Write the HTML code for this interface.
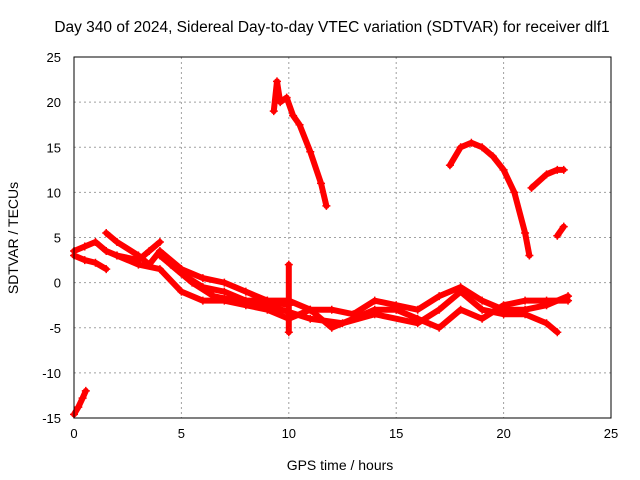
<!DOCTYPE html>
<html><head><meta charset="utf-8"><style>
body{margin:0;background:#fff}
svg{display:block;font-family:"Liberation Sans",sans-serif}
</style></head><body>
<svg id="c" width="640" height="480" viewBox="0 0 640 480"></svg>
<script>
const xTicks=[0,5,10,15,20,25];
const yTicks=[-15,-10,-5,0,5,10,15,20,25];
const trackStart=[[0,-14.6],[0.2,-13.8],[0.4,-12.8],[0.55,-12]];
const trackA=[[0,3.5],[0.5,4],[1,4.5],[1.5,3.5],[2,3],[3,2.5],[3.5,3.5],[4,4.5]];
const trackB=[[0,3],[0.5,2.5],[1,2.2],[1.5,1.5]];
const trackC=[[1.5,5.5],[2,4.5],[3,3],[3.5,2],[4,3.5],[5,1.5],[6,0.5],[7,0],[8,-1],[9,-2],[10,-2.5]];
const trackD=[[2,3],[3,2],[4,1.5],[5,-1],[6,-2],[7,-2],[8,-2.5],[9,-3],[10,-4],[11,-3],[12,-5],[13,-4],[14,-3],[15,-3],[16,-4],[17,-5],[18,-3],[19,-4],[20,-2.5],[21,-2],[22,-2],[23,-2]];
const trackE=[[4,3],[5,1],[6,-0.5],[7,-1],[8,-2],[9,-2],[10,-2],[11,-3],[12,-3],[13,-3.5],[14,-2],[15,-2.5],[16,-3],[17,-1.5],[18,-0.5],[19,-2],[20,-3],[21,-3],[22,-2.5],[23,-1.5]];
const trackF=[[4.5,2],[5.5,0],[6.5,-1.5],[7.5,-2],[9,-2.5],[11,-4],[12.5,-4.5],[14,-3.5],[16,-4.5],[17,-3],[18,-1],[19,-3],[20,-3.5],[21,-3.5],[22,-4.5],[22.5,-5.5]];
const trackSpike=[[10,-5.5],[10,2]];
const trackHigh=[[9.3,19],[9.45,22.3],[9.6,20],[9.9,20.5],[10.2,18.5],[10.5,17.5],[11,14.5],[11.5,11],[11.75,8.5]];
const trackArc=[[17.5,13],[18,15],[18.5,15.5],[19,15],[19.5,14],[20,12.5],[20.5,10],[21,5.5],[21.2,3]];
const trackLate=[[21.3,10.5],[22,12],[22.5,12.5],[22.8,12.5]];
const trackSmall=[[22.5,5.2],[22.8,6.2]];
const tracks=[trackStart,trackA,trackB,trackC,trackD,trackE,trackF,trackSpike,trackHigh,trackArc,trackLate,trackSmall];
const L=74,R=611,T=57,B=418;
const X=v=>L+(v-0)/25*(R-L);
const Y=v=>B-(v+15)/40*(B-T);
const svg=document.getElementById('c');
const NS='http://www.w3.org/2000/svg';
function mk(t,a){const e=document.createElementNS(NS,t);for(const k in a)e.setAttribute(k,a[k]);svg.appendChild(e);return e;}
let e=mk('text',{x:332,y:32,'text-anchor':'middle','font-size':15.5,fill:'#000'});e.textContent='Day 340 of 2024, Sidereal Day-to-day VTEC variation (SDTVAR) for receiver dlf1';


xTicks.forEach(v=>{
 const g=mk('line',{x1:X(v),x2:X(v),y1:T,y2:B,stroke:'#a0a0a0','stroke-dasharray':'2,3'});
 
 
 const t=mk('text',{x:X(v),y:B+20,'text-anchor':'middle','font-size':13});t.textContent=v;
 
 
});
yTicks.forEach(v=>{
 const g=mk('line',{x1:L,x2:R,y1:Y(v),y2:Y(v),stroke:'#a0a0a0','stroke-dasharray':'2,3'});
 
 
 const t=mk('text',{x:L-13,y:Y(v)+5,'text-anchor':'end','font-size':13});t.textContent=v;
 
 
});
tracks.forEach(tr=>{
 const p=mk('polyline',{points:tr.map(d=>X(d[0])+','+Y(d[1])).join(' '),fill:'none',stroke:'#ff0000','stroke-width':6,'stroke-linejoin':'round','stroke-linecap':'round'});
 
 
 tr.forEach(d=>{
  const m=mk('path',{d:`M${X(d[0])-4},${Y(d[1])}h8M${X(d[0])},${Y(d[1])-4}v8`,stroke:'#ff0000','stroke-width':1.5});
  
  
 });
});
const f=mk('rect',{x:L,y:T,width:R-L,height:B-T,fill:'none',stroke:'#000','stroke-width':1});


e=mk('text',{x:340,y:470,'text-anchor':'middle','font-size':14});e.textContent='GPS time / hours';


e=mk('text',{x:0,y:0,'text-anchor':'middle','font-size':14,transform:'translate(18,238) rotate(-90)'});e.textContent='SDTVAR / TECUs';


</script>
</body></html>
